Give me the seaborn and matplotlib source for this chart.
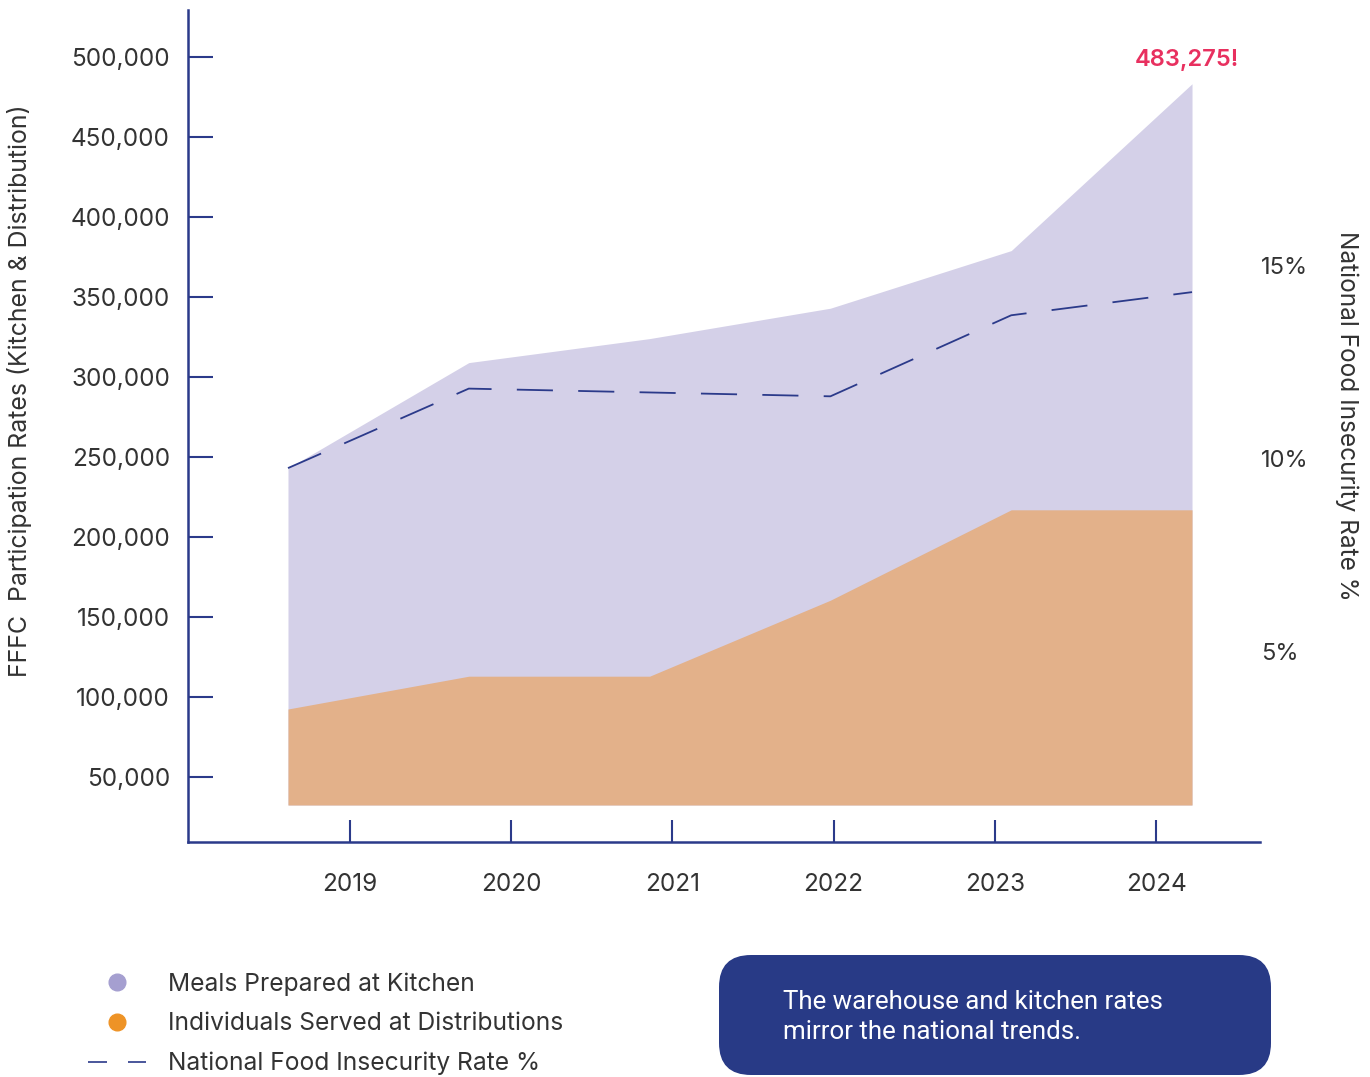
import matplotlib
matplotlib.use("Agg")
import matplotlib.pyplot as plt
from matplotlib.patches import FancyBboxPatch
from matplotlib.lines import Line2D
import seaborn as sns
import pandas as pd

# ---------------- data ----------------
years = [2019, 2020, 2021, 2022, 2023, 2024]
meals_kitchen = [243000, 309000, 324000, 343000, 379000, 483275]
individuals_dist = [92500, 113000, 113000, 160500, 217000, 217000]
area_baseline = 32500
insecurity_rate = [9.74, 11.8, 11.7, 11.6, 13.7, 14.3]
left_ticks = [50000, 100000, 150000, 200000, 250000, 300000, 350000, 400000, 450000, 500000]
right_ticks = [5, 10, 15]
highlight_label = "483,275!"

df = pd.DataFrame({"year": years, "meals": meals_kitchen,
                   "individuals": individuals_dist, "rate": insecurity_rate})

# ---------------- style ----------------
sns.set_theme(style="white")
plt.rcParams["font.family"] = ["Inter", "DejaVu Sans"]
NAVY = "#2B3A8A"
TXT = "#333333"
PURPLE_FILL = "#D4D0E8"
ORANGE_FILL = "#E3B18A"
PURPLE_DOT = "#A59FD0"
ORANGE_DOT = "#EE9326"
RED = "#E8305F"
BOX = "#283A86"

W, H = 1370, 1077
fig = plt.figure(figsize=(W / 100, H / 100), dpi=100)

def frac(x0, y0, x1, y1):
    return [x0 / W, 1 - y1 / H, (x1 - x0) / W, (y1 - y0) / H]

pos = frac(188, 10, 1260, 842)
YLIM = (9375, 529375)

# main axes: spines and ticks
ax = fig.add_axes(pos)
ax.set_facecolor("none")
ax.set_xlim(2017.995, 2024.645)
ax.set_ylim(*YLIM)
for s in ["top", "right"]:
    ax.spines[s].set_visible(False)
for s in ["left", "bottom"]:
    ax.spines[s].set_color(NAVY)
    ax.spines[s].set_linewidth(1.8)
ax.set_xticks(years)
ax.set_xticklabels([str(y) for y in years])
ax.set_yticks(left_ticks)
ax.set_yticklabels([f"{v:,}" for v in left_ticks])
ax.tick_params(axis="y", left=True, direction="in", length=18, width=1.5, color=NAVY,
               labelsize=17.5, labelcolor=TXT, pad=13)
ax.tick_params(axis="x", bottom=True, direction="in", length=16, width=1.5, color=NAVY,
               labelsize=17.5, labelcolor=TXT, pad=22)
ax.set_xlabel("")
ax.set_ylabel("")

# area overlay
ax2 = fig.add_axes(pos)
ax2.set_facecolor("none")
ax2.set_xlim(2018.447, 2024.376)
ax2.set_ylim(*YLIM)
ax2.axis("off")
ax2.fill_between(df["year"], area_baseline, df["meals"], color=PURPLE_FILL, lw=0)
ax2.fill_between(df["year"], area_baseline, df["individuals"], color=ORANGE_FILL, lw=0)
ax2.text(df["year"].iloc[-1] - 0.03, df["meals"].iloc[-1] + 8000, highlight_label,
         color=RED, fontsize=17, fontweight="semibold", ha="center", va="bottom")

# rate overlay (right axis)
ax3 = fig.add_axes(pos)
ax3.set_facecolor("none")
ax3.set_xlim(2018.447, 2024.376)
ax3.set_ylim(0.052, 21.61)
sns.lineplot(data=df, x="year", y="rate", ax=ax3, color=NAVY, lw=1.3,
             linestyle=(0, (20, 14)))
for s in ["top", "right", "left", "bottom"]:
    ax3.spines[s].set_visible(False)
ax3.set_xticks([])
ax3.yaxis.tick_right()
ax3.set_yticks(right_ticks)
ax3.set_yticklabels([f"{v}%" for v in right_ticks])
ax3.tick_params(axis="y", right=True, length=0, labelsize=17, labelcolor=TXT, pad=1)
ax3.set_xlabel("")
ax3.set_ylabel("")

# axis titles
fig.text(20 / W, 1 - 391 / H, "FFFC  Participation Rates (Kitchen & Distribution)",
         rotation=90, ha="center", va="center", fontsize=17.9, color=TXT)
fig.text(1347 / W, 1 - 416 / H, "National Food Insecurity Rate %",
         rotation=270, ha="center", va="center", fontsize=17.6, color=TXT)

# legend
handles = [
    Line2D([], [], marker="o", ls="none", markersize=12, color=PURPLE_DOT),
    Line2D([], [], marker="o", ls="none", markersize=12, color=ORANGE_DOT),
    Line2D([], [], color=NAVY, lw=1.2, linestyle=(0, (11.4, 12.6))),
]
labels = ["Meals Prepared at Kitchen", "Individuals Served at Distributions",
          "National Food Insecurity Rate %"]
leg = fig.legend(handles, labels, loc="upper left",
                 bbox_to_anchor=(88 / W, 1 - 972 / H), frameon=False,
                 fontsize=17.7, labelcolor=TXT, handlelength=2.35,
                 handletextpad=0.9, labelspacing=0.68, borderaxespad=0,
                 borderpad=0)

# note box
ann = fig.add_axes([0, 0, 1, 1])
ann.set_xlim(0, W)
ann.set_ylim(H, 0)
ann.axis("off")
ann.add_patch(FancyBboxPatch((719, 955), 552, 120,
                             boxstyle="round,pad=0,rounding_size=32",
                             fc=BOX, ec="none"))
ann.text(783, 1002, "The warehouse and kitchen rates", color="white",
         fontsize=18.6, va="center", ha="left", family=["Roboto", "DejaVu Sans"])
ann.text(783, 1032, "mirror the national trends.", color="white",
         fontsize=18.6, va="center", ha="left", family=["Roboto", "DejaVu Sans"])

fig.savefig("out.png", dpi=100)
